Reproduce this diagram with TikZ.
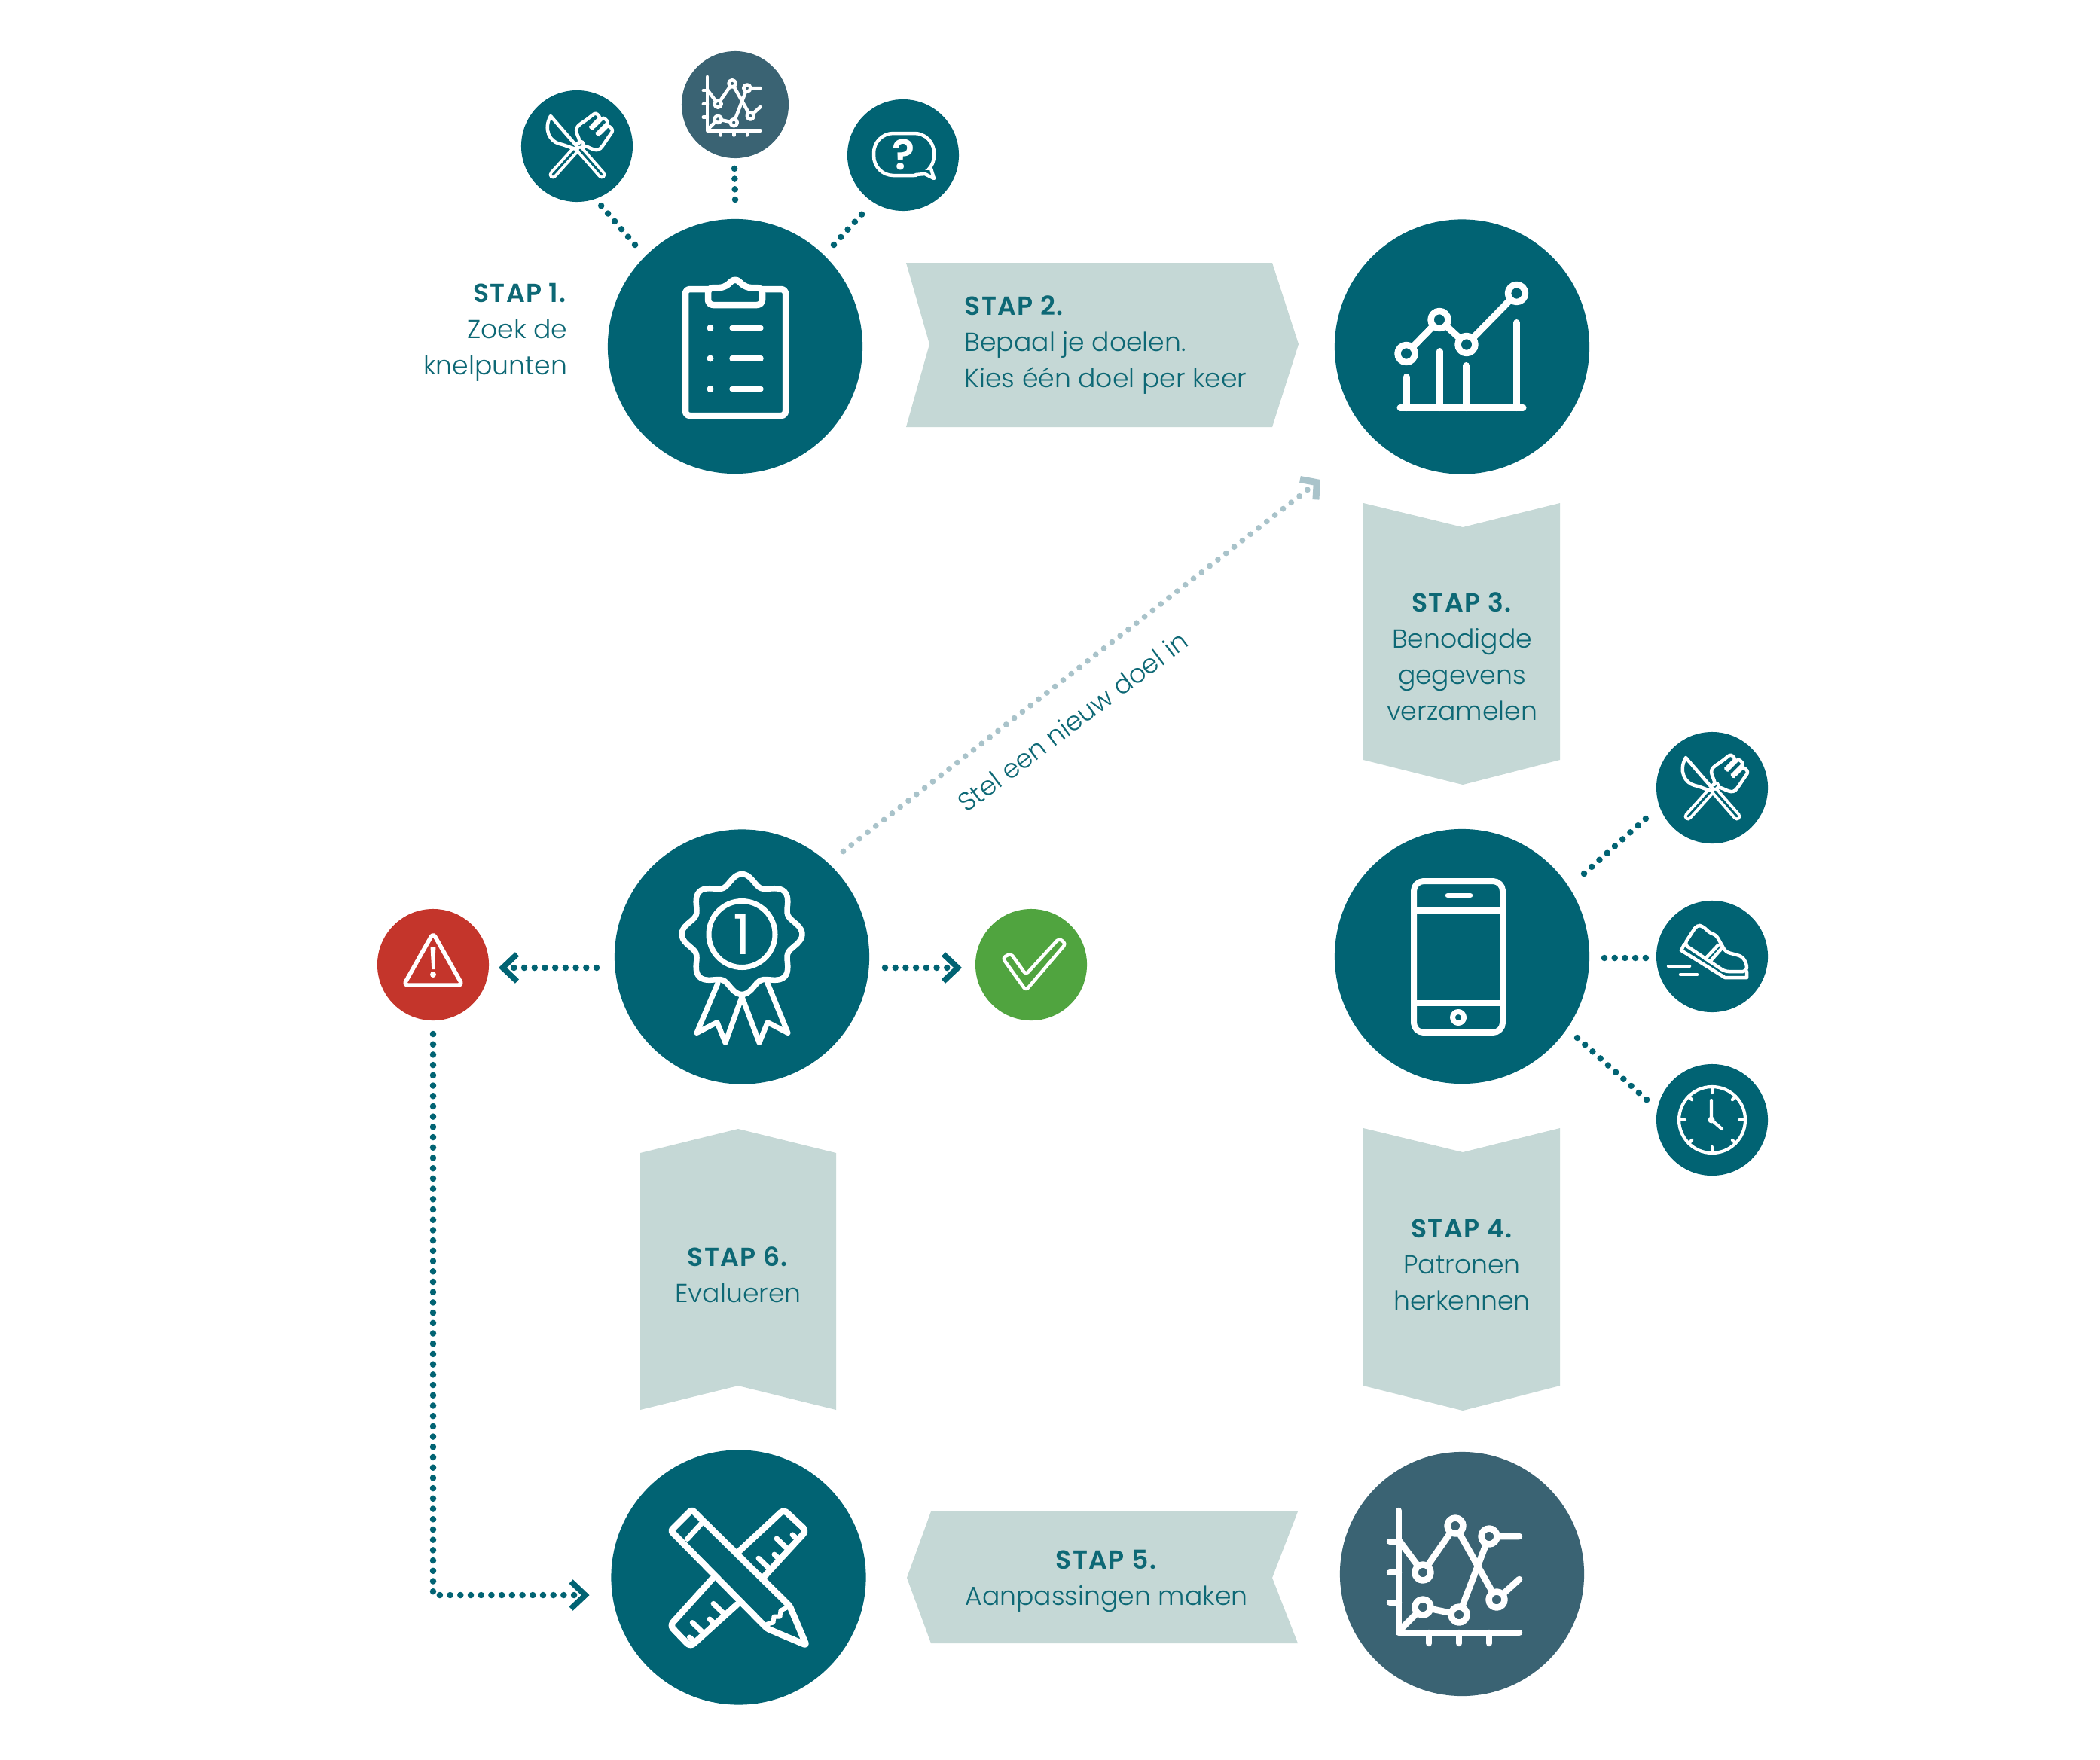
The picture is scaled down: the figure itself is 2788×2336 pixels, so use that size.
\documentclass[tikz,border=0pt]{standalone}
\usepackage{fontspec}
\setmainfont{Poppins}[UprightFont=* Light,BoldFont=* SemiBold,BoldFeatures={LetterSpace=4}]
\newfontfamily\digitfont{Poppins}
\usetikzlibrary{calc,arrows.meta}
\definecolor{main}{HTML}{016373}
\definecolor{slate}{HTML}{3A6373}
\definecolor{band}{HTML}{C5D8D6}
\definecolor{alarm}{HTML}{C4352B}
\definecolor{okgreen}{HTML}{50A43F}
\definecolor{pale}{HTML}{A9C3CA}
\definecolor{txt}{HTML}{0D6875}
\tikzset{
  big/.style={circle,fill=main,inner sep=0pt,minimum size=3.38cm},
  small/.style={circle,fill=main,inner sep=0pt,minimum size=1.48cm},
  ic/.style={draw=white,line width=#1,line cap=round,line join=round},
  bandshape/.style={fill=band,draw=none},
  dots/.style={draw=main,line width=0.085cm,line cap=round,dash pattern=on 0pt off 0.137cm},
  chev/.style={-{Straight Barb[length=0.19cm,width=0.36cm,line width=0.075cm]}},
  palechev/.style={-{Straight Barb[length=0.15cm,width=0.34cm,line width=0.09cm]}},
  lab/.style={text=txt,inner sep=0pt,font=\fontsize{9.85pt}{13.66pt}\selectfont},
}
% fork and knife
\newcommand\forkknife[1]{\begin{scope}[shift={(#1)}]
  \draw[ic=0.11cm] (5,-3) -- (-32,38);
  \draw[draw=main,line width=0.03cm,line cap=round] (5,-3) -- (-32,38);
  \begin{scope}[shift={(5,-2)},rotate=45]
    \draw[ic=0.045cm,rounded corners=0.03cm] (0,-3) .. controls (6,-5) and (5,-20) .. (18,-20)
      -- (28,-18) -- (44,-16) -- (44,-7) -- (26,-7) -- (26,-4.5) -- (47,-4.5) -- (47,5) -- (26,5) -- (26,7.5)
      -- (44,7.5) -- (44,17) -- (28,20) -- (18,22) .. controls (5,22) and (6,5) .. (0,3);
  \end{scope}
  \draw[ic=0.045cm,fill=main] (-35,-40) -- (4,5) .. controls (-5,4) and (-14,-1) .. (-23,-3)
     .. controls (-36,-6) and (-45,-22) .. (-35,-40) -- cycle;
  \draw[ic=0.11cm] (4,5) -- (33,38);
  \draw[draw=main,line width=0.03cm,line cap=round] (4,5) -- (33,38);
\end{scope}}
% line chart: node, scale, line width
\newcommand\linechart[3]{\begin{scope}[shift={(#1)},scale=#2]
  \draw[ic=#3] (-84,-84) -- (-84,78) -- (76,78);
  \foreach \yy in {-43,-2,38} \draw[ic=#3] (-96,\yy) -- (-84,\yy);
  \foreach \xx in {-44,-4,36} \draw[ic=#3] (\xx,78) -- (\xx,92);
  \draw[ic=#3] (-84,-45) -- (-52,-2) -- (-9,-64) -- (46,34) -- (76,7);
  \draw[ic=#3] (-83,75) -- (-52,44) -- (-4,54) -- (36,-50) -- (76,-50);
  \foreach \p in {(-52,-2),(-9,-64),(46,34),(-52,44),(-4,54),(36,-50)}
    \draw[ic=#3,fill=slate] \p circle (10.5);
\end{scope}}
\begin{document}
\begin{tikzpicture}[x=0.01cm,y=-0.01cm]
\useasboundingbox (0,0) rectangle (2788,2336);
\fill[white] (0,0) rectangle (2788,2336);
% bands
\fill[bandshape] (1203,349) -- (1689,349) -- (1724,457) -- (1689,567) -- (1203,567) -- (1234,457) -- cycle;
\fill[bandshape] (1810,668) -- (1942,700) -- (2071,668) -- (2071,1009) -- (1942,1042) -- (1810,1009) -- cycle;
\fill[bandshape] (1810,1498) -- (1942,1530) -- (2071,1498) -- (2071,1840) -- (1942,1873) -- (1810,1840) -- cycle;
\fill[bandshape] (1204,2095) -- (1236,2007) -- (1723,2007) -- (1689,2095) -- (1723,2182) -- (1236,2182) -- cycle;
\fill[bandshape] (850,1531) -- (980,1499) -- (1110,1531) -- (1110,1872) -- (980,1840) -- (850,1872) -- cycle;
% circles
\node[big] (c1) at (976,460) {};
\node[big] (c2) at (1941,460.5) {};
\node[big] (phone) at (1941,1270) {};
\node[big] (award) at (985,1270.5) {};
\node[big] (pencil) at (980.5,2094.5) {};
\node[big,fill=slate,minimum size=3.24cm] (trend) at (1941,2090) {};
\node[small] (f1) at (766,194) {};
\node[small,fill=slate,minimum size=1.42cm] (ch1) at (976,139) {};
\node[small] (q1) at (1199,206) {};
\node[small] (f2) at (2273,1046) {};
\node[small] (shoe) at (2273,1270) {};
\node[small] (clock) at (2273,1487) {};
\node[small,fill=alarm] (warn) at (575,1281) {};
\node[small,fill=okgreen] (okc) at (1369,1281) {};
% connectors
\draw[dots] ($(c1)+(-133,-135)$) -- ($(f1)+(32,79)$);
\draw[dots] ($(c1)+(0,-195)$) -- ($(ch1)+(-1,83)$);
\draw[dots] ($(c1)+(131,-135)$) -- ($(q1)+(-46,69)$);
\draw[dots] ($(phone)+(162,-110)$) -- ($(f2)+(-87,40)$);
\draw[dots] ($(phone)+(189,2)$) -- ($(shoe)+(-88,2)$);
\draw[dots] ($(phone)+(153,108)$) -- ($(clock)+(-86,-26)$);
\draw[dots,chev] ($(award)+(-193,14.5)$) -- ($(warn)+(87,4)$);
\draw[dots,chev] ($(award)+(190,14.5)$) -- ($(okc)+(-92,4)$);
\draw[dots,chev] ($(warn)+(0,92)$) |- ($(pencil)+(-198,23.5)$);
\draw[dots,palechev,draw=pale,line width=0.078cm] ($(award)+(134.5,-140)$) -- ($(c2)+(-188,176.5)$);
% clipboard
\begin{scope}[shift={(c1)}]
  \draw[ic=0.085cm,rounded corners=0.06cm] (-66,-76) rectangle (67,92);
  \draw[ic=0.085cm,fill=main,rounded corners=0.07cm] (-36,-78) -- (-14,-78) -- (0,-91) -- (14,-78) -- (36,-78) -- (36,-55) -- (-36,-55) -- cycle;
  \foreach \yy in {-24.5,16,56.5} {
    \fill[white] (-33,\yy) circle (4.5);
    \draw[ic=0.075cm] (-4,\yy) -- (34,\yy);
  }
\end{scope}
% rising chart
\begin{scope}[shift={(c2)}]
  \draw[ic=0.09cm] (-82,81) -- (81,81);
  \draw[ic=0.09cm] (-74,40) -- (-74,81);
  \draw[ic=0.09cm] (-30,6) -- (-30,81);
  \draw[ic=0.09cm] (5.5,25) -- (5.5,81);
  \draw[ic=0.09cm] (72.5,-32) -- (72.5,81);
  \draw[ic=0.09cm] (-74,9) -- (-30,-36) -- (6,-3) -- (72.5,-71);
  \foreach \p in {(-74,9),(-30,-36),(6,-3),(72.5,-71)}
    \draw[ic=0.085cm,fill=main] \p circle (11.5);
\end{scope}
% phone
\begin{scope}[shift={(phone)}]
  \draw[ic=0.08cm,rounded corners=0.13cm] (-64,-100) rectangle (54,101);
  \draw[ic=0.08cm] (-64,-61) -- (54,-61);
  \draw[ic=0.08cm] (-64,62) -- (54,62);
  \draw[ic=0.065cm] (-19,-81) -- (11,-81);
  \draw[ic=0.07cm] (-5,81) circle (7.5);
\end{scope}
% award
\begin{scope}[shift={(award)}]
  \draw[ic=0.07cm] (-32,35) -- (-60,101) -- (-33,87) -- (-22,114) -- (0,53) -- (23,114) -- (34,87) -- (61,101) -- (34,35);
  \draw[ic=0.075cm,fill=main] plot[domain=0:360,samples=145,smooth] ({(73+7*cos(8*\x))*cos(\x)},{-30+(73+7*cos(8*\x))*sin(\x)}) -- cycle;
  \draw[ic=0.07cm] (0,-30) circle (44);
  \node[text=white,inner sep=0pt,font=\fontsize{21pt}{21pt}\digitfont] (one) at (0,-30) {1};
\end{scope}
% pencil and ruler
\begin{scope}[shift={(pencil)}]
  \draw[ic=0.085cm,rounded corners=0.06cm] (0,-34) -- (60,-90) -- (90,-62) -- (34,-1);
  \draw[ic=0.085cm,rounded corners=0.06cm] (-35,2) -- (-91,64) -- (-64,92) -- (-2,36);
  \foreach \t/\l in {.2/10,.42/22,.63/10,.85/22}
    \draw[ic=0.07cm] ($(90,-62)!\t!(34,-1)$) -- ++(-0.72*\l,-0.69*\l);
  \foreach \t/\l in {.25/22,.47/10,.7/22,.9/10}
    \draw[ic=0.07cm] ($(-2,36)!\t!(-64,92)$) -- ++(-0.72*\l,-0.69*\l);
  \draw[ic=0.085cm,fill=main,rounded corners=0.03cm] (-62,-90) -- (68,38) -- (90,90) -- (38,68) -- (-90,-62) -- cycle;
  \draw[ic=0.07cm] (-49,-72) -- (-68,-51);
  \draw[ic=0.06cm] (38,62) -- (46,60) -- (47,52) -- (55,52) -- (56,44) -- (64,40);
\end{scope}
% small line charts
\linechart{ch1}{0.44}{0.045cm}
\linechart{trend}{1}{0.085cm}
% fork and knife icons
\forkknife{f1}
\forkknife{f2}
% question bubble
\begin{scope}[shift={(q1)}]
  \draw[ic=0.045cm,rounded corners=0.26cm] (-39,-29) -- (41,-29) -- (41,27) -- (-39,27) -- cycle;
  \fill[main] (18,20) rectangle (36,30);
  \draw[ic=0.045cm] (17,26) -- (29,25) -- (41,31) -- (37,18);
  \node[text=white,inner sep=0pt,font=\fontsize{16pt}{16pt}\bfseries\selectfont] (qm) at (1,-1) {?};
\end{scope}
% shoe
\begin{scope}[shift={(shoe)}]
  \draw[ic=0.045cm,rounded corners=0.05cm] (-37,-16) -- (-20,-42) -- (-12,-40) -- (-3,-31) -- (5,-29) -- (18,-6) -- (40,0) -- (46,10) -- (46,20) -- (17,20) -- cycle;
  \draw[ic=0.045cm] (-41,-8) -- (17,28) -- (46,28) -- (46,20);
  \draw[ic=0.045cm] (-41,-8) -- (-37,-16);
  \draw[ic=0.045cm] (-9,3) -- (8,-15);
  \draw[ic=0.045cm] (-3,7) -- (13,-11);
  \draw[ic=0.045cm] (-58,13) -- (-30,13);
  \draw[ic=0.045cm] (-42,24) -- (-20,24);
\end{scope}
% clock
\begin{scope}[shift={(clock)}]
  \draw[ic=0.042cm] (0,0) circle (44);
  \foreach \a in {0,90,180,270} \draw[ic=0.042cm] (\a:44) -- (\a:36);
  \foreach \a in {45,135,225,315} \draw[ic=0.042cm] (\a:44) -- (\a:38);
  \draw[ic=0.042cm] (-1,-26) -- (-1,0) -- (13,12);
  \fill[white] (-1,0) circle (4.5);
\end{scope}
% warning
\begin{scope}[shift={(warn)}]
  \draw[ic=0.055cm,rounded corners=0.05cm] (0,-42) -- (39,27) -- (-39,27) -- cycle;
  \fill[white] (-3.5,-24) -- (3.5,-24) -- (1.8,6) -- (-1.8,6) -- cycle;
  \fill[white] (0,13) circle (4);
\end{scope}
% check
\begin{scope}[shift={(okc)}]
  \draw[ic=0.045cm,rounded corners=0.04cm] (-38,-9) -- (-7,34) -- (46,-28) -- (37,-35) -- (-7,13) -- (-27,-15) -- cycle;
\end{scope}
% labels
\node[lab,align=right,anchor=east] (s1) at (754,441) {\textbf{STAP 1.}\\Zoek de\\knelpunten};
\node[lab,align=left,anchor=west] (s2) at (1280,458) {\textbf{STAP 2.}\\Bepaal je doelen.\\Kies één doel per keer};
\node[lab,align=center] (s3) at (1941,872) {\textbf{STAP 3.}\\Benodigde\\gegevens\\verzamelen};
\node[lab,align=center] (s4) at (1941,1679) {\textbf{STAP 4.}\\Patronen\\herkennen};
\node[lab,align=center] (s5) at (1469,2099) {\textbf{STAP 5.}\\Aanpassingen maken};
\node[lab,align=center] (s6) at (980,1693) {\textbf{STAP 6.}\\Evalueren};
\node[lab,rotate=37] (nieuw) at (1424,958) {Stel een nieuw doel in};
\end{tikzpicture}
\end{document}
